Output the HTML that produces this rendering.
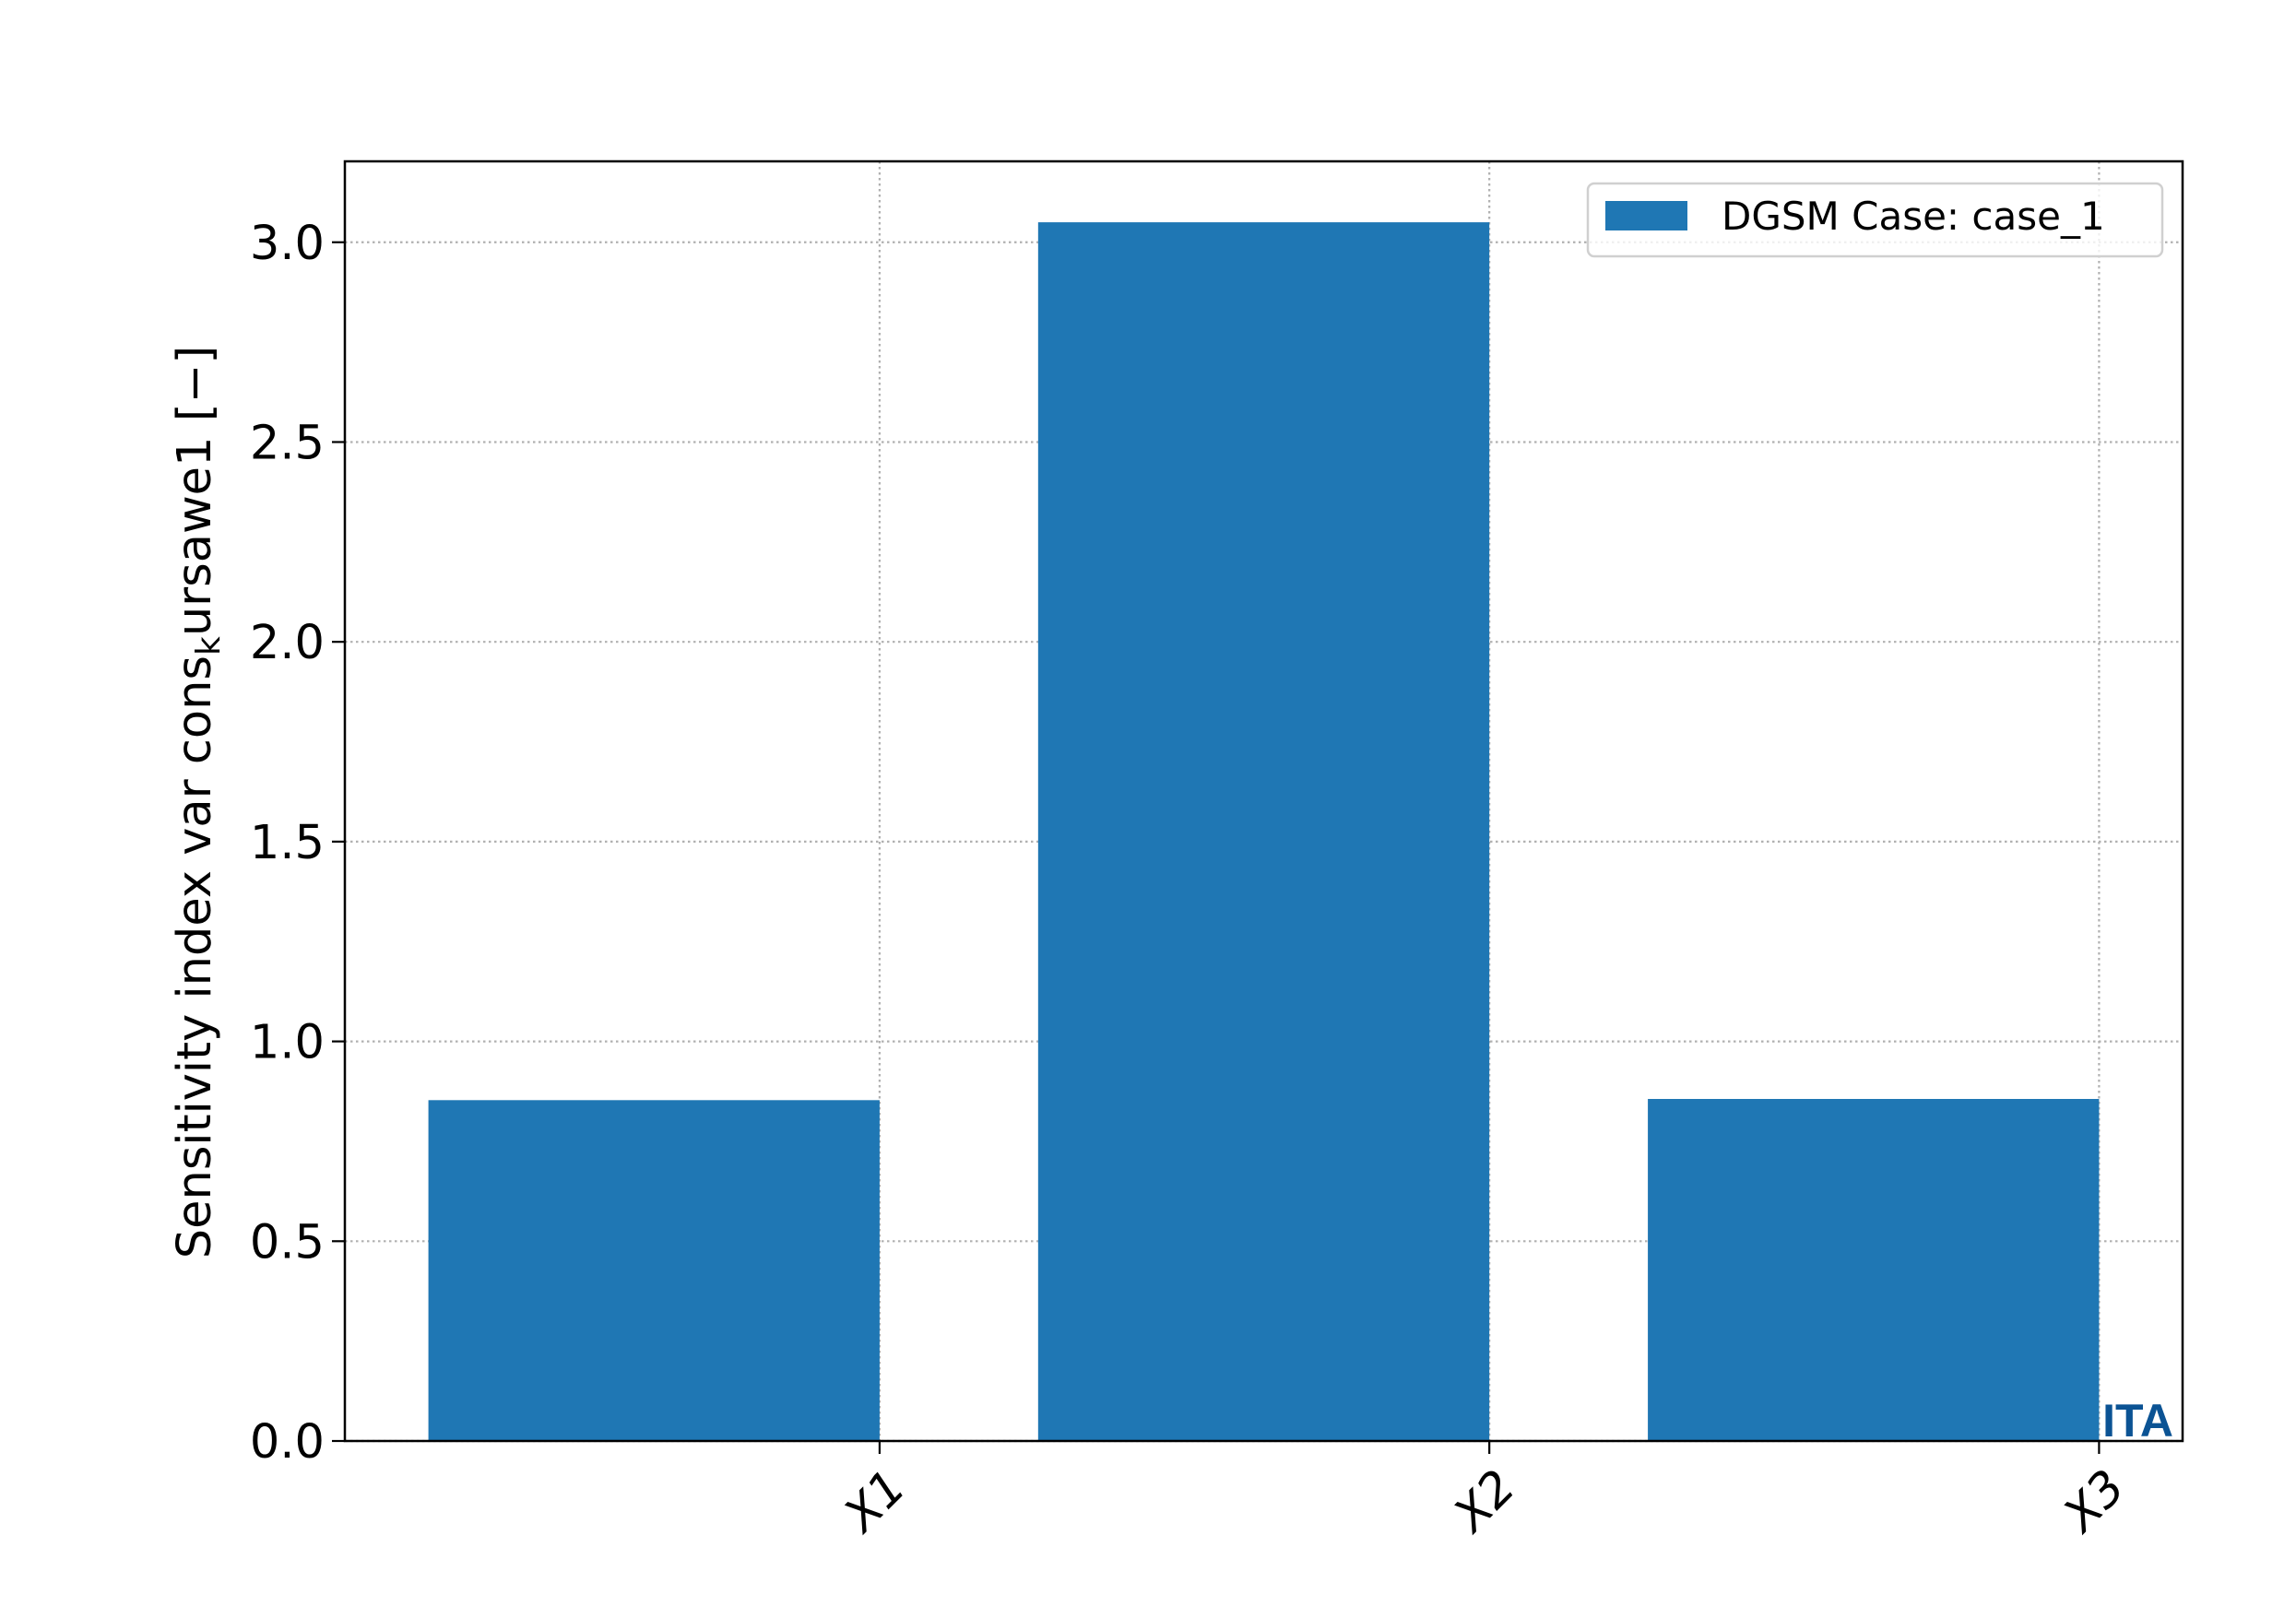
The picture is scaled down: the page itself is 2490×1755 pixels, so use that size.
<!DOCTYPE html>
<html><head><meta charset="utf-8"><style>
html,body{margin:0;padding:0;background:#fff;}
svg{display:block;font-family:"DejaVu Sans","Liberation Sans",sans-serif;}
</style></head><body>
<svg id="chart" width="2490" height="1755" viewBox="0 0 2490 1755" xmlns="http://www.w3.org/2000/svg">
<rect width="2490" height="1755" fill="#fff"/>
<g id="grid"></g><g id="bars"></g><g id="axes"></g>
</svg>
<script>
const categories = ["X1", "X2", "X3"];
const values = [0.853, 3.05, 0.856];
const yTicks = [0.0, 0.5, 1.0, 1.5, 2.0, 2.5, 3.0];
const yTickLabels = ["0.0", "0.5", "1.0", "1.5", "2.0", "2.5", "3.0"];
const seriesName = ["DGSM Case: case_1"];

const NS = "http://www.w3.org/2000/svg";
const L = 374, R = 2367, T = 175, B = 1563;
const barW = 0.74;
const xMin = -barW - 0.05 * (categories.length - 1 + barW);
const xMax = (categories.length - 1) + 0.05 * (categories.length - 1 + barW);
const yMax = Math.max(...values) * 1.05;
const xs = v => L + (v - xMin) / (xMax - xMin) * (R - L);
const ys = v => B - v / yMax * (B - T);
function mk(tag, attrs, parent) {
  const e = document.createElementNS(NS, tag);
  for (const k in attrs) e.setAttribute(k, attrs[k]);
  parent.appendChild(e); return e;
}
const grid = document.getElementById('grid'), bars = document.getElementById('bars'), axes = document.getElementById('axes');

yTicks.forEach((t, i) => {
  const y = ys(t);
  const g = mk('line', {x1: L, x2: R, y1: y, y2: y, stroke: '#b0b0b0', 'stroke-width': 2.2, 'stroke-dasharray': '2.5,3.5'}, grid);
  
  
  const tk = mk('line', {x1: L - 14, x2: L, y1: y, y2: y, stroke: '#000', 'stroke-width': 2.2}, axes);
  
  
  const tx = mk('text', {x: L - 22, y: y + 18, 'text-anchor': 'end', 'font-size': 51, fill: '#000'}, axes);
  tx.textContent = yTickLabels[i];
  
  
});

categories.forEach((c, i) => {
  const x = xs(i);
  const g = mk('line', {x1: x, x2: x, y1: T, y2: B, stroke: '#b0b0b0', 'stroke-width': 2.2, 'stroke-dasharray': '2.5,3.5'}, grid);
  
  
  const r = mk('rect', {x: xs(i - barW), y: ys(values[i]), width: xs(i) - xs(i - barW), height: B - ys(values[i]), fill: '#1f77b4'}, bars);
  
  
  const tk = mk('line', {x1: x, x2: x, y1: B, y2: B + 14, stroke: '#000', 'stroke-width': 2.2}, axes);
  
  
  const tx = mk('text', {x: 0, y: 0, 'text-anchor': 'middle', 'font-size': 51, 'font-style': 'italic', fill: '#000', transform: `translate(${x + 7},${1640}) rotate(-45)`}, axes);
  tx.textContent = c;
  
  
});

const frame = mk('rect', {x: L, y: T, width: R - L, height: B - T, fill: 'none', stroke: '#000', 'stroke-width': 2.5}, axes);



const yl = mk('text', {x: 0, y: 0, 'text-anchor': 'middle', 'font-size': 51, fill: '#000', transform: 'translate(228,870) rotate(-90)'}, axes);
yl.innerHTML = 'Sensitivity index var cons<tspan font-size="36" dy="10">k</tspan><tspan dy="-10">ursawe1 [−]</tspan>';



const lg = mk('g', {}, axes);


mk('rect', {x: 1722, y: 199, width: 623, height: 79, rx: 7, fill: '#fff', 'fill-opacity': 0.8, stroke: '#d0d0d0', 'stroke-width': 2.5}, lg);
const lp = mk('rect', {x: 1741, y: 218, width: 89, height: 32, fill: '#1f77b4'}, lg);


const lt = mk('text', {x: 1867, y: 249, 'font-size': 42, fill: '#000'}, lg);
lt.textContent = seriesName[0];



const ita = mk('text', {x: 2357, y: 1558, 'text-anchor': 'end', 'font-size': 50, 'font-weight': 'bold', fill: '#0b5394', 'font-family': '"Liberation Sans", sans-serif'}, axes);
ita.textContent = 'ITA';


</script>
</body></html>
